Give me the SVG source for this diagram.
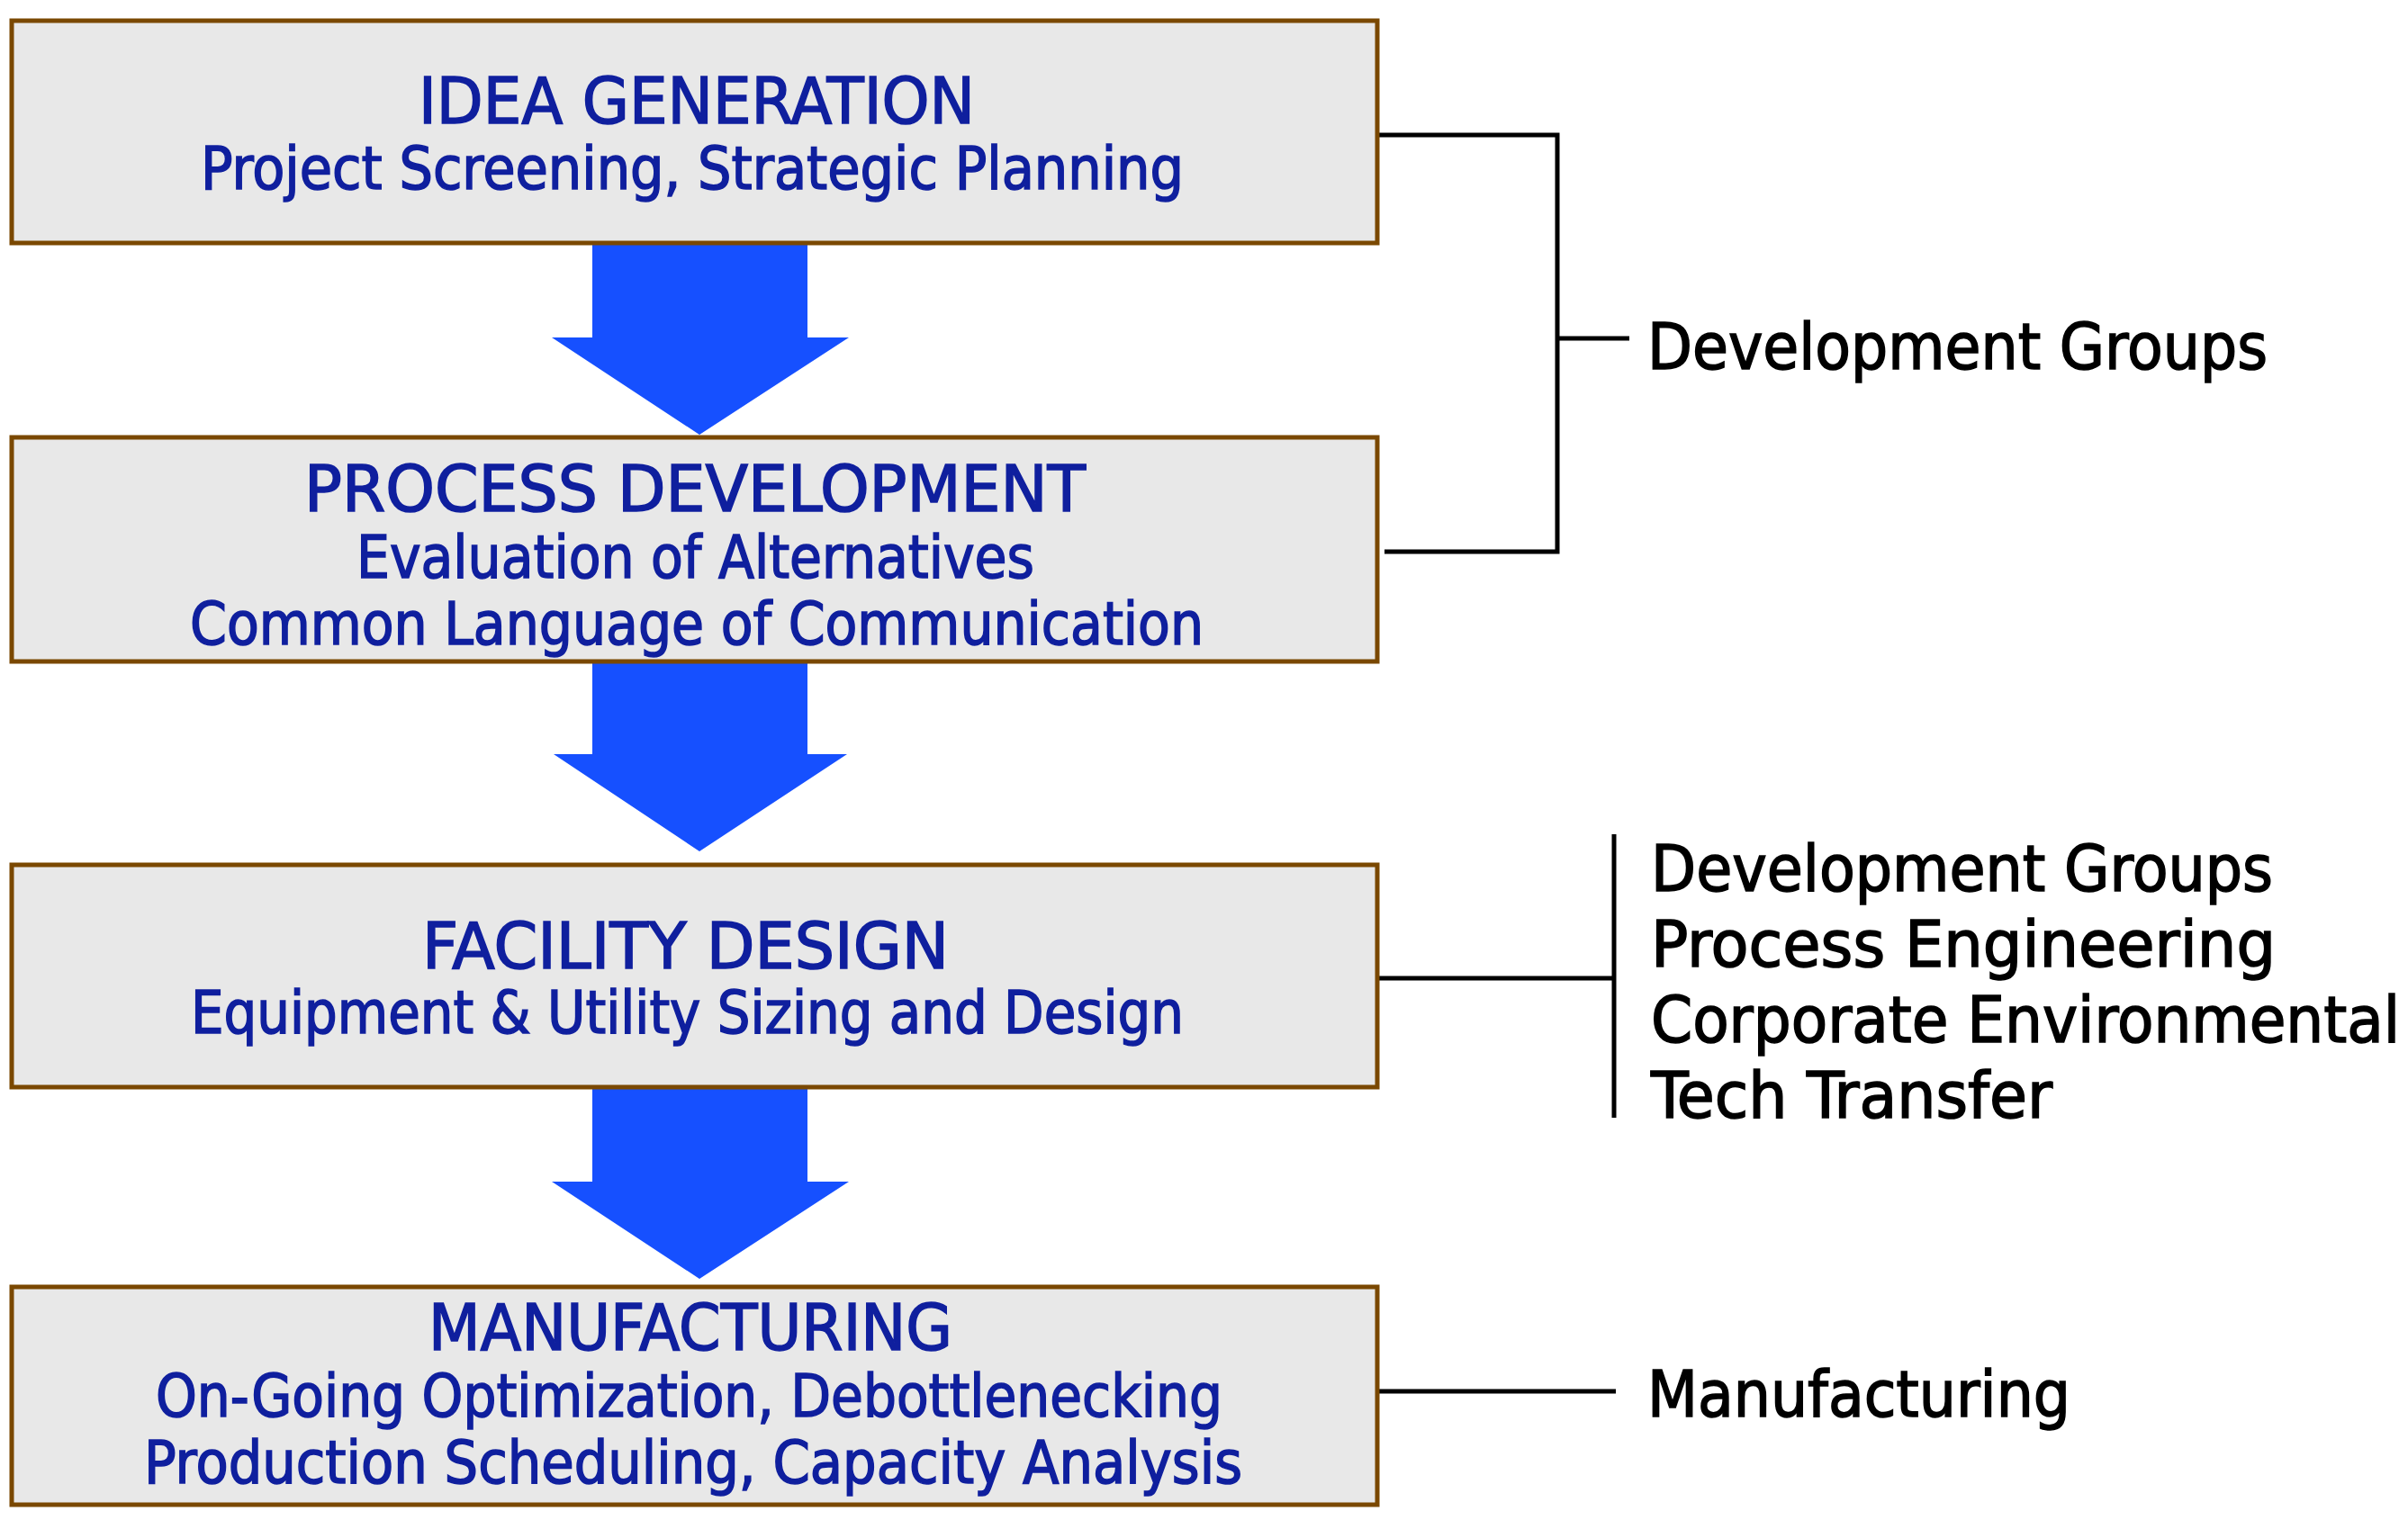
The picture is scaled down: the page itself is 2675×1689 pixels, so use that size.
<svg xmlns="http://www.w3.org/2000/svg" width="2675" height="1689" viewBox="0 0 2675 1689">
<style>
.box{fill:#E8E8E8;stroke:#7A4800;stroke-width:5}
.arrow{fill:#1650FF}
.t{font-family:"DejaVu Sans Condensed","DejaVu Sans","Liberation Sans",sans-serif;fill:#0F1F9E;stroke:#0F1F9E;stroke-width:1.5}
.title{font-size:72px}
.sub{font-size:65px}
.lbl{font-family:"DejaVu Sans Condensed","DejaVu Sans","Liberation Sans",sans-serif;font-size:72px;fill:#000;stroke:#000;stroke-width:1.5}
.conn{fill:none;stroke:#000;stroke-width:5}
</style>
<rect width="2675" height="1689" fill="#fff"/>
<g id="connectors">
<path class="conn" d="M1532 150 H1730 V613 H1538"/>
<path class="conn" d="M1730 376 H1810"/>
<path class="conn" d="M1532 1087 H1793"/>
<path class="conn" d="M1793 927 V1242"/>
<path class="conn" d="M1532 1546 H1795"/>
<polygon class="arrow" points="658,270 897,270 897,375 943,375 777,483 613,375 658,375"/>
<polygon class="arrow" points="658,735 897,735 897,838 941,838 777,946 615,838 658,838"/>
<polygon class="arrow" points="658,1208 897,1208 897,1313 943,1313 777,1421 613,1313 658,1313"/>
</g>
<g id="idea-generation">
<rect class="box" x="13" y="23" width="1517" height="247"/>
<text class="t title" x="465" y="137" textLength="618" lengthAdjust="spacingAndGlyphs">IDEA GENERATION</text>
<text class="t sub" x="223" y="210" textLength="1092" lengthAdjust="spacingAndGlyphs">Project Screening, Strategic Planning</text>
</g>
<g id="process-development">
<rect class="box" x="13" y="486" width="1517" height="249"/>
<text class="t title" x="338" y="568" textLength="868" lengthAdjust="spacingAndGlyphs">PROCESS DEVELOPMENT</text>
<text class="t sub" x="396" y="642" textLength="753" lengthAdjust="spacingAndGlyphs">Evaluation of Alternatives</text>
<text class="t sub" x="211" y="716" textLength="1126" lengthAdjust="spacingAndGlyphs">Common Language of Communication</text>
</g>
<g id="facility-design">
<rect class="box" x="13" y="961" width="1517" height="247"/>
<text class="t title" x="469" y="1076" textLength="585" lengthAdjust="spacingAndGlyphs">FACILITY DESIGN</text>
<text class="t sub" x="212" y="1148" textLength="1103" lengthAdjust="spacingAndGlyphs">Equipment &amp; Utility Sizing and Design</text>
</g>
<g id="manufacturing">
<rect class="box" x="13" y="1430" width="1517" height="242"/>
<text class="t title" x="476" y="1500" textLength="582" lengthAdjust="spacingAndGlyphs">MANUFACTURING</text>
<text class="t sub" x="173" y="1574" textLength="1185" lengthAdjust="spacingAndGlyphs">On-Going Optimization, Debottlenecking</text>
<text class="t sub" x="160" y="1648" textLength="1220" lengthAdjust="spacingAndGlyphs">Production Scheduling, Capacity Analysis</text>
</g>
<g id="label-development-groups">
<text class="lbl" x="1830" y="410" textLength="689" lengthAdjust="spacingAndGlyphs">Development Groups</text>
</g>
<g id="label-facility-groups">
<text class="lbl" x="1834" y="990" textLength="691" lengthAdjust="spacingAndGlyphs">Development Groups</text>
<text class="lbl" x="1834" y="1074" textLength="694" lengthAdjust="spacingAndGlyphs">Process Engineering</text>
<text class="lbl" x="1834" y="1158" textLength="832" lengthAdjust="spacingAndGlyphs">Corporate Environmental</text>
<text class="lbl" x="1834" y="1242" textLength="446" lengthAdjust="spacingAndGlyphs">Tech Transfer</text>
</g>
<g id="label-manufacturing">
<text class="lbl" x="1830" y="1574" textLength="470" lengthAdjust="spacingAndGlyphs">Manufacturing</text>
</g>
</svg>
